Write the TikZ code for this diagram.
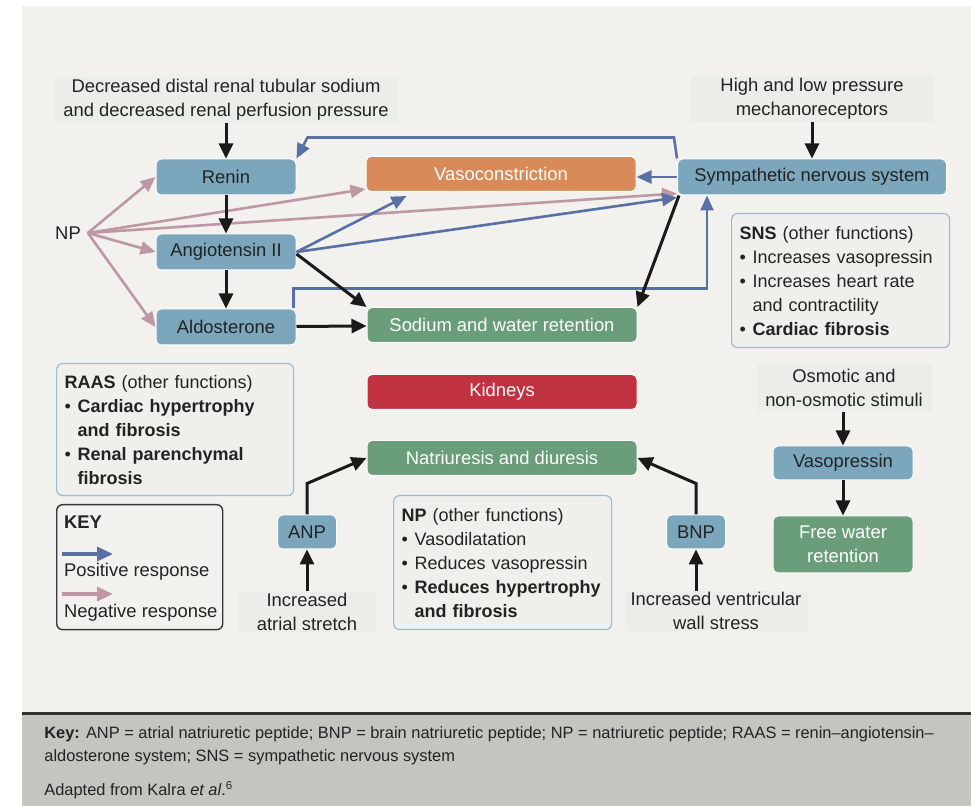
\documentclass[tikz,border=0pt]{standalone}
\usepackage{fontspec}
\setmainfont{Liberation Sans}
\usepackage{tikz}
\usepackage{xcolor}
\usetikzlibrary{arrows.meta, positioning, calc}
\definecolor{panelcol}{RGB}{242, 241, 237}
\definecolor{footercol}{RGB}{198, 196, 191}
\definecolor{triggercol}{RGB}{235, 237, 232}
\definecolor{infofill}{RGB}{239, 240, 236}
\definecolor{infoline}{RGB}{150, 190, 208}
\definecolor{keyline}{RGB}{55, 55, 55}
\definecolor{hormonecol}{RGB}{123, 166, 188}
\definecolor{vasocol}{RGB}{216, 139, 89}
\definecolor{retaincol}{RGB}{106, 157, 121}
\definecolor{kidneycol}{RGB}{192, 50, 63}
\definecolor{posblue}{RGB}{88, 112, 164}
\definecolor{negpink}{RGB}{189, 151, 163}
\definecolor{inkblack}{RGB}{26, 26, 26}
\definecolor{inktext}{RGB}{35, 35, 35}
\newcommand{\itembul}{\makebox[6.5pt][l]{\textbullet}}
\newcommand{\itemcont}{\hspace*{6.5pt}}

\begin{document}
\begin{tikzpicture}[
    x=0.5pt, y=-0.5pt,
    font=\fontsize{9.2}{12}\selectfont,
    text=inktext,
    hormone/.style={
        rectangle, rounded corners=2.5pt,
        minimum width=70pt, minimum height=18pt, inner sep=1pt,
        fill=hormonecol, draw=white, line width=0.5pt
    },
    effect/.style={
        rectangle, rounded corners=2.5pt,
        minimum width=135pt, minimum height=17.5pt, inner sep=1pt,
        draw=white, line width=0.5pt, text=white
    },
    trigger/.style={
        rectangle, fill=triggercol, align=center,
        inner xsep=2.5pt, inner ysep=0pt, minimum height=23pt
    },
    infobox/.style={
        rectangle, rounded corners=3pt, anchor=north west,
        draw=infoline, fill=infofill, line width=0.6pt,
        align=left, inner xsep=4pt, minimum height=67pt,
        font=\fontsize{9}{12}\selectfont
    },
    arrow/.style={
        -{Triangle[length=7.5pt, width=7pt]}, line width=1.5pt, draw=inkblack
    },
    posarrow/.style={
        -{Triangle[length=7.5pt, width=6.5pt]}, line width=1.3pt, draw=posblue
    },
    negarrow/.style={
        -{Triangle[length=7.5pt, width=6.5pt]}, line width=1.3pt, draw=negpink
    },
    keyarrow/.style={
        -{Triangle[length=8pt, width=7pt]}, line width=1.6pt
    }
]

% Panel and footer
\useasboundingbox (0,0) rectangle (971,806);
\fill[panelcol] (22,6) rectangle (971,712);
\fill[inkblack!90] (22,712) rectangle (971,715);
\fill[footercol] (22,715) rectangle (971,806);

% RAAS column
\node[trigger, minimum width=171.5pt] (distal) at (226,100) {Decreased distal renal tubular sodium\\and decreased renal perfusion pressure};
\node[hormone] (renin) at (226,177) {Renin};
\node[hormone, below=19pt of renin] (angio) {Angiotensin II};
\node[hormone, below=19pt of angio] (aldo) {Aldosterone};
\node (np) at (68,233) {NP};

% Effects
\node[effect, fill=vasocol] (vaso) at (501,174) {Vasoconstriction};
\node[effect, fill=retaincol] (sodium) at (502,325) {Sodium and water retention};
\node[effect, fill=kidneycol, below=15.5pt of sodium] (kidneys) {Kidneys};
\node[effect, fill=retaincol, below=15pt of kidneys] (natri) {Natriuresis and diuresis};

% SNS
\node[hormone, minimum width=134.5pt] (sns) at (812,177) {Sympathetic nervous system};
\node[trigger, minimum width=121.5pt, above=18pt of sns] (mech) {High and low pressure\\mechanoreceptors};

% Vasopressin
\node[trigger, minimum width=87.5pt, minimum height=23.5pt] (osmo) at (844,388) {Osmotic and\\non-osmotic stimuli};
\node[hormone, minimum height=17pt] (vasopressin) at (843,463) {Vasopressin};
\node[effect, fill=retaincol, minimum width=70pt, minimum height=28.5pt, align=center, below=17.5pt of vasopressin] (freewater) {Free water\\retention};

% Natriuretic peptides
\node[hormone, minimum width=29.5pt, minimum height=17pt] (anp) at (307,532) {ANP};
\node[trigger, minimum width=68.5pt, minimum height=20pt, below=21pt of anp] (atrial) {Increased\\atrial stretch};
\node[hormone, minimum width=29.5pt, minimum height=17pt] (bnp) at (696,532) {BNP};
\node[trigger, minimum width=91.5pt, minimum height=20pt] (ventricle) at (716,611) {Increased ventricular\\wall stress};

% Other functions
\node[infobox, text width=110.5pt, minimum height=66pt] (raas) at (56,363) {\textbf{RAAS} (other functions)\\
    \itembul\textbf{Cardiac hypertrophy}\\
    \itemcont\textbf{and fibrosis}\\
    \itembul\textbf{Renal parenchymal}\\
    \itemcont\textbf{fibrosis}};
\node[infobox, text width=101pt] (snsinfo) at (731,213) {\textbf{SNS} (other functions)\\
    \itembul Increases vasopressin\\
    \itembul Increases heart rate\\
    \itemcont and contractility\\
    \itembul\textbf{Cardiac fibrosis}};
\node[infobox, text width=101pt] (npinfo) at (393,495) {\textbf{NP} (other functions)\\
    \itembul Vasodilatation\\
    \itembul Reduces vasopressin\\
    \itembul\textbf{Reduces hypertrophy}\\
    \itemcont\textbf{and fibrosis}};

% Key
\node[draw=keyline, rounded corners=3pt, line width=0.7pt, fill=panelcol, minimum width=83pt, minimum height=62.5pt, anchor=north west] (key) at (56,504) {};
\node[anchor=west, font=\fontsize{9.2}{12}\selectfont\bfseries] (keytitle) at (57,522) {KEY};
\coordinate (posstart) at (62,554);
\coordinate (posend) at (113,554);
\draw[keyarrow, draw=posblue] (posstart) -- (posend);
\node[anchor=west] (poslabel) at (57,572) {Positive response};
\coordinate (negstart) at (62,594);
\coordinate (negend) at (113,594);
\draw[keyarrow, draw=negpink] (negstart) -- (negend);
\node[anchor=west] (neglabel) at (57,613) {Negative response};

% Negative responses (NP)
\draw[negarrow] (np.east) -- (renin.west);
\draw[negarrow] (np.east) -- ([yshift=1.5pt]vaso.south west);
\draw[negarrow] (np.east) -- ([yshift=1pt]sns.south west);
\draw[negarrow] (np.east) -- (angio.west);
\draw[negarrow] (np.east) -- (aldo.west);

% Positive responses
\draw[posarrow] (sns.north west) -- ++(-3,-21) -- ($(renin.north east)+(11,-21)$) -- (renin.north east);
\draw[posarrow] (sns.west) -- (sns.west -| vaso.east);
\draw[posarrow] (angio.east) -- ($(vaso.south west)+(41,4)$);
\draw[posarrow] (angio.east) -- ([yshift=-1pt]sns.south west);
\draw[posarrow] ([xshift=-1.5pt]aldo.north east) -- ++(0,-20) -| ($(sns.south west)+(30,0)$);

% Cascade arrows
\draw[arrow] (distal) -- (renin);
\draw[arrow] (renin) -- (angio);
\draw[arrow] (angio) -- (aldo);
\draw[arrow] ([yshift=-1pt]angio.east) -- (sodium.north west);
\draw[arrow] (aldo) -- (sodium);
\draw[arrow] (mech) -- (sns);
\draw[arrow] ([xshift=1pt]sns.south west) -- (sodium.north east);
\draw[arrow] (atrial) -- (anp);
\draw[arrow] (anp.north) -- ++(0,-31) -- (natri.west);
\draw[arrow] (bnp.south |- ventricle.north) -- (bnp.south);
\draw[arrow] (bnp.north) -- ++(0,-31) -- (natri.east);
\draw[arrow] (vasopressin.north |- osmo.south) -- (vasopressin.north);
\draw[arrow] (vasopressin) -- (freewater);

% Footer
\node[anchor=north west, align=left, inner sep=0pt, font=\fontsize{8.2}{11.5}\selectfont] (abbrev) at (44,726) {\textbf{Key:} ANP = atrial natriuretic peptide; BNP = brain natriuretic peptide; NP = natriuretic peptide; RAAS = renin--angiotensin--\\aldosterone system; SNS = sympathetic nervous system};
\node[anchor=north west, inner sep=0pt, font=\fontsize{8.2}{11.5}\selectfont] (source) at (44,781) {Adapted from Kalra \textit{et al}.\textsuperscript{6}};

\end{tikzpicture}
\end{document}
